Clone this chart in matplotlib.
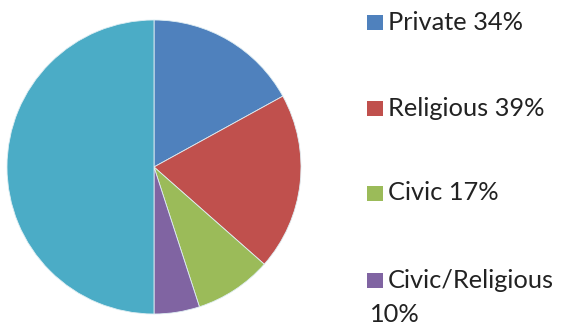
import matplotlib
matplotlib.use("Agg")
import matplotlib.pyplot as plt
from matplotlib.patches import Rectangle

# categories and their shares (drawn as the right half of the pie)
labels = ["Private 34%", "Religious 39%", "Civic 17%", "Civic/Religious\n10%"]
shares = [34, 39, 17, 10]
colors = ["#4F81BD", "#C0504D", "#9BBB59", "#8064A2"]
filler_color = "#4BACC6"

W, H = 561, 325
fig = plt.figure(figsize=(W / 100, H / 100), dpi=100)
plt.rcParams['font.family'] = ['Lato', 'DejaVu Sans']

# pie: center (154,167) px, radius 147 px
cx, cy, r = 154, 167, 147
ax = fig.add_axes([(cx - r) / W, (H - cy - r) / H, 2 * r / W, 2 * r / H])
vals = shares + [sum(shares)]
ax.pie(vals, colors=colors + [filler_color], startangle=90, counterclock=False,
       wedgeprops=dict(edgecolor="#dfeef3", linewidth=0.6))
ax.set_xlim(-1, 1)
ax.set_ylim(-1, 1)
ax.set_aspect("equal")

# legend drawn by hand
ys = [22, 108, 193, 280]
for lab, col, y in zip(labels, colors, ys):
    fig.add_artist(Rectangle((367 / W, 1 - (y + 8) / H), 16 / W, 15 / H,
                             transform=fig.transFigure, facecolor=col,
                             edgecolor="none"))
    first, *rest = lab.split("\n")
    fig.text(388 / W, 1 - y / H, first, fontsize=18.3, color="#222222",
             va="center", ha="left")
    for i, line in enumerate(rest):
        fig.text(370 / W, 1 - (y + 34 * (i + 1)) / H, line, fontsize=18.3,
                 color="#222222", va="center", ha="left")

fig.savefig("out.png", dpi=100)
